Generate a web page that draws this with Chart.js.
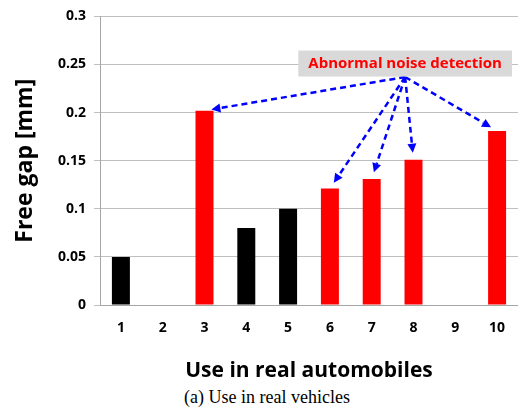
<!DOCTYPE html>
<html>
<head>
<meta charset="utf-8">
<script src="https://cdn.jsdelivr.net/npm/chart.js@4.4.1/dist/chart.umd.min.js"></script>
<style>
  html, body { margin: 0; padding: 0; background: #fff; }
  #wrap { position: relative; width: 518px; height: 420px; }
  #box { position: absolute; left: 0; top: 0; width: 518px; height: 384px; }
  #caption {
    position: absolute; left: 0; width: 534px; top: 387px;
    text-align: center; font-family: "Liberation Serif", serif; font-size: 18px; color: #000;
  }
</style>
</head>
<body>
<div id="wrap">
  <div id="box"><canvas id="gapChart"></canvas></div>
  <div id="caption">(a) Use in real vehicles</div>
</div>
<script>
const categories = ['1', '2', '3', '4', '5', '6', '7', '8', '9', '10'];
const gapValues = [0.05, 0, 0.202, 0.08, 0.1, 0.121, 0.131, 0.151, 0, 0.181];
const abnormal = [false, false, true, false, false, true, true, true, false, true];
const yMin = 0;
const yMax = 0.3;
const yStep = 0.05;
const noteText = 'Abnormal noise detection';
const noteAt = { x: 6.8, y: 0.251 };
const arrowFrom = { x: 6.8, y: 0.237 };

// callout box + dashed arrows to the abnormal bars
const calloutPlugin = {
  id: 'callout',
  afterDatasetsDraw(chart) {
    const ctx = chart.ctx;
    const xs = chart.scales.x, ys = chart.scales.y;
    const meta = chart.getDatasetMeta(0);

    const ox = xs.getPixelForValue(arrowFrom.x);
    const oy = ys.getPixelForValue(arrowFrom.y);

    ctx.save();
    ctx.strokeStyle = '#0000ff';
    ctx.fillStyle = '#0000ff';
    ctx.lineWidth = 2.5;
    abnormal.forEach((flag, i) => {
      if (!flag) return;
      const bar = meta.data[i];
      let tx = bar.x, ty = bar.y;
      const dx = tx - ox, dy = ty - oy;
      const len = Math.sqrt(dx * dx + dy * dy);
      const ux = dx / len, uy = dy / len;
      tx = tx - ux * 7; ty = ty - uy * 7;
      const head = 9;
      ctx.setLineDash([6, 4]);
      ctx.beginPath();
      ctx.moveTo(ox, oy);
      ctx.lineTo(tx - ux * head, ty - uy * head);
      ctx.stroke();
      ctx.setLineDash([]);
      ctx.beginPath();
      ctx.moveTo(tx, ty);
      ctx.lineTo(tx - ux * head - uy * 4.5, ty - uy * head + ux * 4.5);
      ctx.lineTo(tx - ux * head + uy * 4.5, ty - uy * head - ux * 4.5);
      ctx.closePath();
      ctx.fill();
    });

    const cx = xs.getPixelForValue(noteAt.x);
    const cy = ys.getPixelForValue(noteAt.y);
    ctx.font = 'bold 15px "Open Sans"';
    const w = ctx.measureText(noteText).width + 20;
    ctx.fillStyle = '#d9d9d9';
    ctx.fillRect(cx - w / 2, cy - 13, w, 26);
    ctx.fillStyle = '#ff0000';
    ctx.textAlign = 'center';
    ctx.textBaseline = 'middle';
    ctx.fillText(noteText, cx, cy);
    ctx.restore();
  }
};

new Chart(document.getElementById('gapChart'), {
  type: 'bar',
  data: {
    labels: categories,
    datasets: [{
      data: gapValues,
      backgroundColor: abnormal.map(f => f ? '#ff0000' : '#000000'),
      categoryPercentage: 1.0,
      barPercentage: 0.43
    }]
  },
  options: {
    responsive: true,
    maintainAspectRatio: false,
    animation: false,
    layout: { padding: { left: 12, right: 0, top: 7, bottom: 0 } },
    plugins: {
      legend: { display: false },
      tooltip: { enabled: false }
    },
    scales: {
      x: {
        grid: { display: false },
        border: { color: '#a6a6a6', width: 1 },
        ticks: { color: '#000', font: { family: 'Open Sans', size: 14, weight: 'bold' }, padding: 7 },
        title: {
          display: true,
          text: 'Use in real automobiles',
          color: '#000',
          font: { family: 'Open Sans', size: 21, weight: 'bold' },
          padding: { top: 15, bottom: 0 }
        }
      },
      y: {
        min: yMin,
        max: yMax,
        afterFit(scale) { scale.width = 88; },
        ticks: {
          stepSize: yStep,
          color: '#000',
          font: { family: 'Open Sans', size: 14, weight: 'bold' },
          padding: 8,
          callback: v => String(+v.toFixed(2))
        },
        grid: { color: '#bfbfbf', tickLength: 6 },
        border: { color: '#a6a6a6' },
        title: {
          display: true,
          text: 'Free gap [mm]',
          color: '#000',
          font: { family: 'Open Sans', size: 23, weight: 'bold' },
          padding: 0
        }
      }
    }
  },
  plugins: [calloutPlugin]
});
</script>
</body>
</html>
